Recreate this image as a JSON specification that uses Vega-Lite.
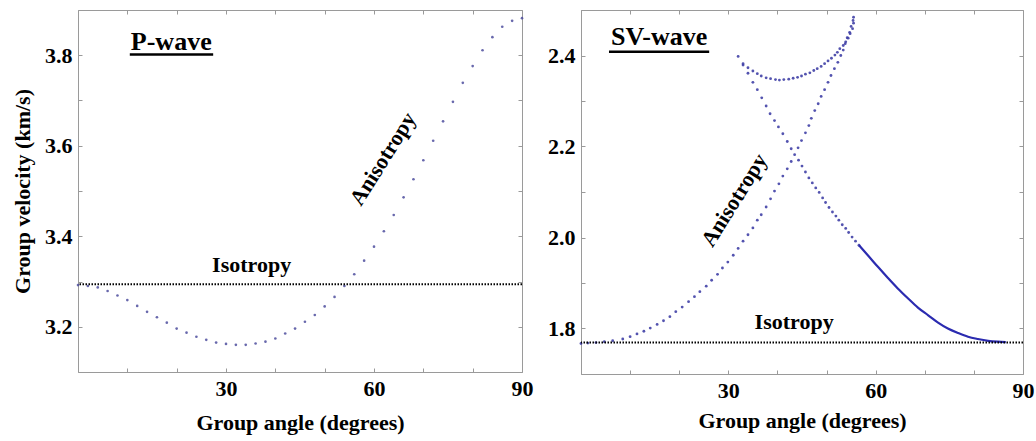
{
  "$schema": "https://vega.github.io/schema/vega-lite/v6.json",
  "background": "white",
  "padding": {"left": 11, "top": 9, "right": 0, "bottom": 5},
  "bounds": "flush",
  "spacing": 59,
  "config": {
    "font": "Liberation Serif",
    "view": {"stroke": "#9a9a9a", "strokeWidth": 1},
    "axis": {
      "grid": false,
      "domain": false,
      "tickColor": "#9a9a9a",
      "tickSize": -4,
      "labelFont": "Liberation Serif",
      "labelFontSize": 22,
      "labelFontWeight": "bold",
      "labelColor": "black",
      "labelFlush": false,
      "labelOverlap": false,
      "titleFont": "Liberation Serif",
      "titleFontSize": 22,
      "titleFontWeight": "bold",
      "titleColor": "black"
    },
    "text": {"font": "Liberation Serif", "fontWeight": "bold", "color": "black"}
  },
  "hconcat": [
    {
      "width": 444,
      "height": 362,
      "resolve": {"axis": {"x": "independent", "y": "independent"}},
      "layer": [
        {
          "data": {"values": [
            {"angle": 0, "vel": 3.292}, {"angle": 2, "vel": 3.290}, {"angle": 4, "vel": 3.287}, {"angle": 6, "vel": 3.279},
            {"angle": 8, "vel": 3.269}, {"angle": 10, "vel": 3.259}, {"angle": 12, "vel": 3.246}, {"angle": 14, "vel": 3.233},
            {"angle": 16, "vel": 3.221}, {"angle": 18, "vel": 3.209}, {"angle": 20, "vel": 3.196}, {"angle": 22, "vel": 3.187},
            {"angle": 24, "vel": 3.178}, {"angle": 26, "vel": 3.171}, {"angle": 28, "vel": 3.165}, {"angle": 30, "vel": 3.162},
            {"angle": 32, "vel": 3.160}, {"angle": 34, "vel": 3.160}, {"angle": 36, "vel": 3.163}, {"angle": 38, "vel": 3.167},
            {"angle": 40, "vel": 3.174}, {"angle": 42, "vel": 3.185}, {"angle": 44, "vel": 3.196}, {"angle": 46, "vel": 3.211},
            {"angle": 48, "vel": 3.226}, {"angle": 50, "vel": 3.245}, {"angle": 52, "vel": 3.266}, {"angle": 54, "vel": 3.290},
            {"angle": 56, "vel": 3.316}, {"angle": 58, "vel": 3.346}, {"angle": 60, "vel": 3.377}, {"angle": 62, "vel": 3.411},
            {"angle": 64, "vel": 3.447}, {"angle": 66, "vel": 3.486}, {"angle": 68, "vel": 3.526}, {"angle": 70, "vel": 3.568},
            {"angle": 72, "vel": 3.611}, {"angle": 74, "vel": 3.654}, {"angle": 76, "vel": 3.697}, {"angle": 78, "vel": 3.739},
            {"angle": 80, "vel": 3.776}, {"angle": 82, "vel": 3.811}, {"angle": 84, "vel": 3.840}, {"angle": 86, "vel": 3.863},
            {"angle": 88, "vel": 3.876}, {"angle": 90, "vel": 3.882}
          ]},
          "mark": {"type": "circle", "size": 7, "color": "#4d4d9e", "opacity": 0.85},
          "encoding": {
            "x": {"field": "angle", "type": "quantitative",
                  "scale": {"domain": [0, 90], "nice": false, "zero": false},
                  "axis": {"orient": "bottom", "values": [30, 60, 90], "ticks": false, "labelPadding": 6,
                           "title": "Group angle (degrees)", "titlePadding": 13}},
            "y": {"field": "vel", "type": "quantitative",
                  "scale": {"domain": [3.1, 3.9], "nice": false, "zero": false},
                  "axis": {"orient": "left", "values": [3.2, 3.4, 3.6, 3.8], "ticks": false, "labelPadding": 6,
                           "format": ".1f", "title": "Group velocity (km/s)", "titlePadding": 10}}
          }
        },
        {
          "data": {"values": [{"vel": 3.294}]},
          "mark": {"type": "rule", "color": "black", "strokeWidth": 2, "strokeDash": [1.5, 1.5]},
          "encoding": {
            "y": {"field": "vel", "type": "quantitative",
                  "scale": {"domain": [3.1, 3.9], "nice": false, "zero": false},
                  "axis": {"orient": "right", "values": [3.1, 3.2, 3.3, 3.4, 3.5, 3.6, 3.7, 3.8, 3.9], "labels": false, "title": null}}
          }
        },
        {
          "data": {"values": [{"angle": 35.2, "vel": 3.3214, "label": "Isotropy"}]},
          "mark": {"type": "text", "fontSize": 22, "align": "center", "baseline": "alphabetic"},
          "encoding": {
            "x": {"field": "angle", "type": "quantitative",
                  "scale": {"domain": [0, 90], "nice": false, "zero": false},
                  "axis": {"orient": "top", "values": [0, 10, 20, 30, 40, 50, 60, 70, 80, 90], "labels": false, "title": null}},
            "y": {"field": "vel", "type": "quantitative",
                  "scale": {"domain": [3.1, 3.9], "nice": false, "zero": false}, "axis": null},
            "text": {"field": "label"}
          }
        },
        {
          "data": {"values": [{"angle": 61.8, "vel": 3.571, "label": "Anisotropy"}]},
          "mark": {"type": "text", "fontSize": 22, "align": "center", "baseline": "middle", "angle": 302},
          "encoding": {
            "x": {"field": "angle", "type": "quantitative", "scale": {"domain": [0, 90], "nice": false, "zero": false},
                  "axis": {"orient": "bottom", "values": [0, 10, 20, 30, 40, 50, 60, 70, 80, 90], "labels": false, "title": null}},
            "y": {"field": "vel", "type": "quantitative", "scale": {"domain": [3.1, 3.9], "nice": false, "zero": false},
                  "axis": {"orient": "left", "values": [3.1, 3.2, 3.3, 3.4, 3.5, 3.6, 3.7, 3.8, 3.9], "labels": false, "title": null}},
            "text": {"field": "label"}
          }
        },
        {
          "data": {"values": [{"angle": 18.9, "vel": 3.811, "label": "P-wave"}]},
          "mark": {"type": "text", "fontSize": 26, "align": "center", "baseline": "alphabetic"},
          "encoding": {
            "x": {"field": "angle", "type": "quantitative", "scale": {"domain": [0, 90], "nice": false, "zero": false}, "axis": null},
            "y": {"field": "vel", "type": "quantitative", "scale": {"domain": [3.1, 3.9], "nice": false, "zero": false}, "axis": null},
            "text": {"field": "label"}
          }
        },
        {
          "data": {"values": [{"a1": 10.5, "a2": 27.4, "vel": 3.8015}]},
          "mark": {"type": "rule", "color": "black", "strokeWidth": 2.5},
          "encoding": {
            "x": {"field": "a1", "type": "quantitative", "scale": {"domain": [0, 90], "nice": false, "zero": false}, "axis": null},
            "x2": {"field": "a2"},
            "y": {"field": "vel", "type": "quantitative", "scale": {"domain": [3.1, 3.9], "nice": false, "zero": false}, "axis": null}
          }
        }
      ]
    },
    {
      "width": 442,
      "height": 364,
      "resolve": {"axis": {"x": "independent", "y": "independent"}},
      "layer": [
        {
          "data": {"values": [
            {"angle": 0, "vel": 1.767}, {"angle": 1.4, "vel": 1.768}, {"angle": 3.05, "vel": 1.769}, {"angle": 4.75, "vel": 1.771},
            {"angle": 6.45, "vel": 1.773}, {"angle": 8.5, "vel": 1.777}, {"angle": 10.0, "vel": 1.782}, {"angle": 11.4, "vel": 1.788},
            {"angle": 12.8, "vel": 1.794}, {"angle": 14.1, "vel": 1.801}, {"angle": 15.5, "vel": 1.809}, {"angle": 16.8, "vel": 1.817},
            {"angle": 18.1, "vel": 1.826}, {"angle": 19.3, "vel": 1.837}, {"angle": 20.6, "vel": 1.847}, {"angle": 21.9, "vel": 1.859},
            {"angle": 23.1, "vel": 1.870}, {"angle": 24.2, "vel": 1.881}, {"angle": 25.5, "vel": 1.893}, {"angle": 26.6, "vel": 1.906},
            {"angle": 27.8, "vel": 1.919}, {"angle": 28.8, "vel": 1.933}, {"angle": 29.9, "vel": 1.946}, {"angle": 31.0, "vel": 1.961},
            {"angle": 32.0, "vel": 1.976}, {"angle": 33.0, "vel": 1.992}, {"angle": 34.0, "vel": 2.006}, {"angle": 35.0, "vel": 2.021},
            {"angle": 35.9, "vel": 2.038}, {"angle": 36.7, "vel": 2.050}, {"angle": 37.7, "vel": 2.067}, {"angle": 38.6, "vel": 2.085},
            {"angle": 39.4, "vel": 2.102}, {"angle": 40.3, "vel": 2.118}, {"angle": 41.1, "vel": 2.135}, {"angle": 42.0, "vel": 2.151},
            {"angle": 42.8, "vel": 2.167}, {"angle": 43.5, "vel": 2.182}, {"angle": 44.2, "vel": 2.197}, {"angle": 44.9, "vel": 2.213},
            {"angle": 45.7, "vel": 2.230}, {"angle": 46.4, "vel": 2.246}, {"angle": 46.9, "vel": 2.262}, {"angle": 47.6, "vel": 2.279},
            {"angle": 48.3, "vel": 2.294}, {"angle": 48.9, "vel": 2.310}, {"angle": 49.6, "vel": 2.325}, {"angle": 50.3, "vel": 2.341},
            {"angle": 50.9, "vel": 2.356}, {"angle": 51.6, "vel": 2.371}, {"angle": 52.3, "vel": 2.385}, {"angle": 52.9, "vel": 2.400},
            {"angle": 53.4, "vel": 2.412}, {"angle": 53.8, "vel": 2.426}, {"angle": 54.2, "vel": 2.439}, {"angle": 54.7, "vel": 2.451},
            {"angle": 55.0, "vel": 2.464}, {"angle": 55.4, "vel": 2.477}, {"angle": 55.5, "vel": 2.484},
            {"angle": 32.0, "vel": 2.398}, {"angle": 33.0, "vel": 2.382}, {"angle": 34.0, "vel": 2.373}, {"angle": 35.0, "vel": 2.366},
            {"angle": 35.9, "vel": 2.360}, {"angle": 36.7, "vel": 2.355}, {"angle": 37.7, "vel": 2.351}, {"angle": 38.6, "vel": 2.349},
            {"angle": 39.6, "vel": 2.347}, {"angle": 40.4, "vel": 2.346}, {"angle": 41.3, "vel": 2.347}, {"angle": 42.3, "vel": 2.348},
            {"angle": 43.2, "vel": 2.350}, {"angle": 44.1, "vel": 2.352}, {"angle": 44.9, "vel": 2.355}, {"angle": 45.7, "vel": 2.359},
            {"angle": 46.6, "vel": 2.362}, {"angle": 47.4, "vel": 2.367}, {"angle": 48.1, "vel": 2.371}, {"angle": 48.9, "vel": 2.376},
            {"angle": 49.6, "vel": 2.382}, {"angle": 50.3, "vel": 2.388}, {"angle": 51.0, "vel": 2.394}, {"angle": 51.7, "vel": 2.401},
            {"angle": 52.2, "vel": 2.407}, {"angle": 52.7, "vel": 2.415}, {"angle": 53.4, "vel": 2.422}, {"angle": 53.9, "vel": 2.430},
            {"angle": 54.4, "vel": 2.438}, {"angle": 54.8, "vel": 2.448}, {"angle": 55.3, "vel": 2.459}, {"angle": 55.5, "vel": 2.471},
            {"angle": 33.0, "vel": 2.379}, {"angle": 34.0, "vel": 2.361}, {"angle": 35.0, "vel": 2.341}, {"angle": 35.9, "vel": 2.325},
            {"angle": 36.8, "vel": 2.307}, {"angle": 37.7, "vel": 2.289}, {"angle": 38.5, "vel": 2.272}, {"angle": 39.4, "vel": 2.257},
            {"angle": 40.2, "vel": 2.243}, {"angle": 41.1, "vel": 2.228}, {"angle": 42.0, "vel": 2.211}, {"angle": 42.8, "vel": 2.195},
            {"angle": 44.3, "vel": 2.170}, {"angle": 45.0, "vel": 2.157}, {"angle": 45.7, "vel": 2.144}, {"angle": 46.4, "vel": 2.131},
            {"angle": 47.1, "vel": 2.120}, {"angle": 47.8, "vel": 2.109}, {"angle": 48.5, "vel": 2.099}, {"angle": 49.2, "vel": 2.087},
            {"angle": 49.8, "vel": 2.077}, {"angle": 50.5, "vel": 2.066}, {"angle": 51.2, "vel": 2.056}, {"angle": 51.9, "vel": 2.047},
            {"angle": 52.5, "vel": 2.038}, {"angle": 53.2, "vel": 2.028}, {"angle": 53.9, "vel": 2.020}, {"angle": 54.5, "vel": 2.011},
            {"angle": 55.2, "vel": 2.001}, {"angle": 55.9, "vel": 1.992}, {"angle": 56.6, "vel": 1.983}
          ]},
          "mark": {"type": "circle", "size": 8, "color": "#4040a6", "opacity": 0.9},
          "encoding": {
            "x": {"field": "angle", "type": "quantitative",
                  "scale": {"domain": [0, 90], "nice": false, "zero": false},
                  "axis": {"orient": "bottom", "values": [30, 60, 90], "ticks": false, "labelPadding": 6,
                           "title": "Group angle (degrees)", "titlePadding": 9}},
            "y": {"field": "vel", "type": "quantitative",
                  "scale": {"domain": [1.7, 2.5], "nice": false, "zero": false},
                  "axis": {"orient": "left", "values": [1.8, 2.0, 2.2, 2.4], "ticks": false, "labelPadding": 6,
                           "format": ".1f", "title": null}}
          }
        },
        {
          "data": {"values": [
            {"angle": 56.6, "vel": 1.983}, {"angle": 58.4, "vel": 1.961}, {"angle": 60.5, "vel": 1.935}, {"angle": 62.5, "vel": 1.911},
            {"angle": 64.5, "vel": 1.888}, {"angle": 66.6, "vel": 1.866}, {"angle": 68.6, "vel": 1.846}, {"angle": 70.7, "vel": 1.829},
            {"angle": 72.7, "vel": 1.813}, {"angle": 74.7, "vel": 1.800}, {"angle": 76.8, "vel": 1.790}, {"angle": 78.8, "vel": 1.782},
            {"angle": 80.8, "vel": 1.777}, {"angle": 82.9, "vel": 1.773}, {"angle": 84.9, "vel": 1.771}, {"angle": 86.5, "vel": 1.770}
          ]},
          "mark": {"type": "line", "color": "#2b2bb0", "strokeWidth": 2.2, "interpolate": "monotone"},
          "encoding": {
            "x": {"field": "angle", "type": "quantitative", "scale": {"domain": [0, 90], "nice": false, "zero": false},
                  "axis": {"orient": "bottom", "values": [0, 10, 20, 30, 40, 50, 60, 70, 80, 90], "labels": false, "title": null}},
            "y": {"field": "vel", "type": "quantitative", "scale": {"domain": [1.7, 2.5], "nice": false, "zero": false},
                  "axis": {"orient": "left", "values": [1.7, 1.8, 1.9, 2.0, 2.1, 2.2, 2.3, 2.4, 2.5], "labels": false, "title": null}}
          }
        },
        {
          "data": {"values": [{"vel": 1.769}]},
          "mark": {"type": "rule", "color": "black", "strokeWidth": 2, "strokeDash": [1.5, 1.5]},
          "encoding": {
            "y": {"field": "vel", "type": "quantitative",
                  "scale": {"domain": [1.7, 2.5], "nice": false, "zero": false},
                  "axis": {"orient": "right", "values": [1.7, 1.8, 1.9, 2.0, 2.1, 2.2, 2.3, 2.4, 2.5], "labels": false, "title": null}}
          }
        },
        {
          "data": {"values": [{"angle": 43.4, "vel": 1.800, "label": "Isotropy"}]},
          "mark": {"type": "text", "fontSize": 22, "align": "center", "baseline": "alphabetic"},
          "encoding": {
            "x": {"field": "angle", "type": "quantitative",
                  "scale": {"domain": [0, 90], "nice": false, "zero": false},
                  "axis": {"orient": "top", "values": [0, 10, 20, 30, 40, 50, 60, 70, 80, 90], "labels": false, "title": null}},
            "y": {"field": "vel", "type": "quantitative", "scale": {"domain": [1.7, 2.5], "nice": false, "zero": false}, "axis": null},
            "text": {"field": "label"}
          }
        },
        {
          "data": {"values": [{"angle": 31.2, "vel": 2.082, "label": "Anisotropy"}]},
          "mark": {"type": "text", "fontSize": 22, "align": "center", "baseline": "middle", "angle": 302},
          "encoding": {
            "x": {"field": "angle", "type": "quantitative", "scale": {"domain": [0, 90], "nice": false, "zero": false}, "axis": null},
            "y": {"field": "vel", "type": "quantitative", "scale": {"domain": [1.7, 2.5], "nice": false, "zero": false}, "axis": null},
            "text": {"field": "label"}
          }
        },
        {
          "data": {"values": [{"angle": 15.9, "vel": 2.423, "label": "SV-wave"}]},
          "mark": {"type": "text", "fontSize": 26, "align": "center", "baseline": "alphabetic"},
          "encoding": {
            "x": {"field": "angle", "type": "quantitative", "scale": {"domain": [0, 90], "nice": false, "zero": false}, "axis": null},
            "y": {"field": "vel", "type": "quantitative", "scale": {"domain": [1.7, 2.5], "nice": false, "zero": false}, "axis": null},
            "text": {"field": "label"}
          }
        },
        {
          "data": {"values": [{"a1": 5.7, "a2": 26.1, "vel": 2.408}]},
          "mark": {"type": "rule", "color": "black", "strokeWidth": 2.5},
          "encoding": {
            "x": {"field": "a1", "type": "quantitative", "scale": {"domain": [0, 90], "nice": false, "zero": false}, "axis": null},
            "x2": {"field": "a2"},
            "y": {"field": "vel", "type": "quantitative", "scale": {"domain": [1.7, 2.5], "nice": false, "zero": false}, "axis": null}
          }
        }
      ]
    }
  ]
}
